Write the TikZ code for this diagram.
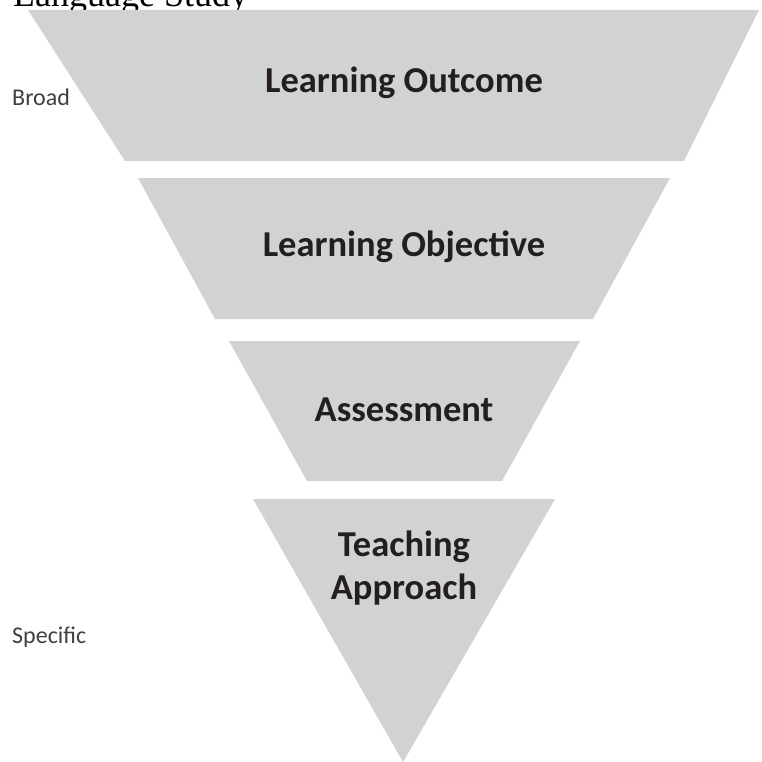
\documentclass[tikz,border=0pt]{standalone}
\usepackage{fontspec}
\setmainfont{Liberation Serif}
\newfontfamily\labelfont{Carlito}
\usepackage{tikz}
\usetikzlibrary{positioning}
\definecolor{layergray}{HTML}{D1D2D4}
\definecolor{labelink}{HTML}{231F20}
\definecolor{sideink}{HTML}{404040}

\begin{document}
\begin{tikzpicture}[x=1pt,y=-1pt,
    layer/.style={fill=layergray},
    stage/.style={font=\labelfont\bfseries\fontsize{36.5}{43}\selectfont,text=labelink,align=center,inner sep=0pt},
    side/.style={font=\labelfont\fontsize{24}{28}\selectfont,text=sideink,anchor=west,inner sep=0pt}]
   \useasboundingbox (0,0) rectangle (761,762);
   \node[anchor=base west,inner sep=0pt,font=\fontsize{36}{40}\selectfont] (title) at (13,7) {Language Study};
   % funnel layers
   \fill[layer] (28,10) -- (759,10) -- (684,161) -- (125,161) -- cycle;
   \fill[layer] (138,178) -- (670,178) -- (593,319) -- (215,319) -- cycle;
   \fill[layer] (229,341) -- (580,341) -- (502,481) -- (307,481) -- cycle;
   \fill[layer] (253,499) -- (555,499) -- (403,762) -- cycle;
   \node[stage] (outcome)   at (404,83)  {Learning Outcome};
   \node[stage] (objective) at (404,247) {Learning Objective};
   \node[stage] (assess)    at (404,410) {Assessment};
   \node[stage] (teach)     at (404,568) {Teaching\\Approach};
   \node[side] (broad)    at (12,97)  {Broad};
   \node[side] (specific) at (12,637) {Specific};
\end{tikzpicture}
\end{document}
